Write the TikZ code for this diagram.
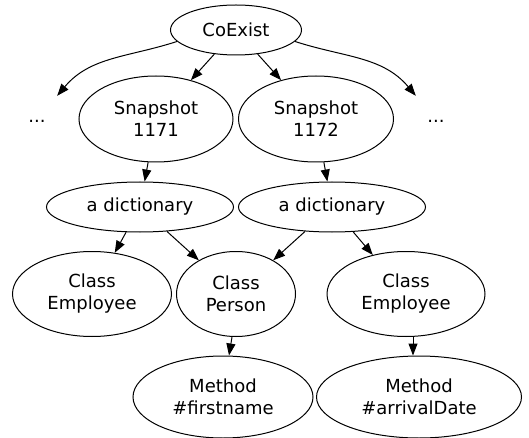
\documentclass[tikz,border=0pt]{standalone}
\usepackage{fontspec}
\setmainfont{DejaVu Sans}
\usetikzlibrary{shapes.geometric,arrows.meta}

\tikzset{
  item/.style={ellipse,draw,line width=1pt,inner sep=0pt,align=center,
    font=\fontsize{18}{22}\selectfont},
  dots/.style={inner sep=0pt,minimum width=40pt,minimum height=50pt,
    font=\fontsize{18}{22}\selectfont},
  link/.style={line width=1pt,-{Triangle[length=12pt,width=9pt]}}
}

\begin{document}
\begin{tikzpicture}[x=1pt,y=-1pt]
  \useasboundingbox (0,0) rectangle (529,438);

  \node[item,minimum width=131pt,minimum height=50pt] (coexist) at (236,30) {CoExist};
  \node[dots] (moreL) at (37,121) {...};
  \node[dots] (moreR) at (436,121) {...};
  \node[item,minimum width=154pt,minimum height=86pt] (snap1171) at (156,119) {Snapshot\\1171};
  \node[item,minimum width=155pt,minimum height=86pt] (snap1172) at (316,119) {Snapshot\\1172};

  \node[item,minimum width=187pt,minimum height=50pt] (dictA) at (140,207) {a dictionary};
  \node[item,minimum width=187pt,minimum height=50pt] (dictB) at (332,207) {a dictionary};

  \node[item,minimum width=159pt,minimum height=85pt] (employeeA) at (92,294) {Class\\Employee};
  \node[item,minimum width=119pt,minimum height=85pt] (person) at (236,294) {Class\\Person};
  \node[item,minimum width=158pt,minimum height=85pt] (employeeB) at (406,294) {Class\\Employee};

  \node[item,minimum width=180pt,minimum height=82pt] (firstname) at (223,397) {Method\\\#firstname};
  \node[item,minimum width=205pt,minimum height=82pt] (arrival) at (419,397) {Method\\\#arrivalDate};

  % snapshots
  \draw[link] (coexist.191) to[out=198,in=50] (moreL.north east);
  \draw[link] (coexist.-11) to[out=-18,in=130] (moreR.north west);
  \draw[link] (coexist) -- (snap1171);
  \draw[link] (coexist) -- (snap1172);

  % dictionaries
  \draw[link] (snap1171) -- (dictA);
  \draw[link] (snap1172) -- (dictB);
  \draw[link] (dictA) -- (employeeA);
  \draw[link] (dictA) -- (person);
  \draw[link] (dictB) -- (person);
  \draw[link] (dictB) -- (employeeB);

  % methods
  \draw[link] ([xshift=-4pt]person.south) -- ([xshift=6pt]firstname.north);
  \draw[link] ([xshift=7pt]employeeB.south) -- ([xshift=-6pt]arrival.north);
\end{tikzpicture}
\end{document}
